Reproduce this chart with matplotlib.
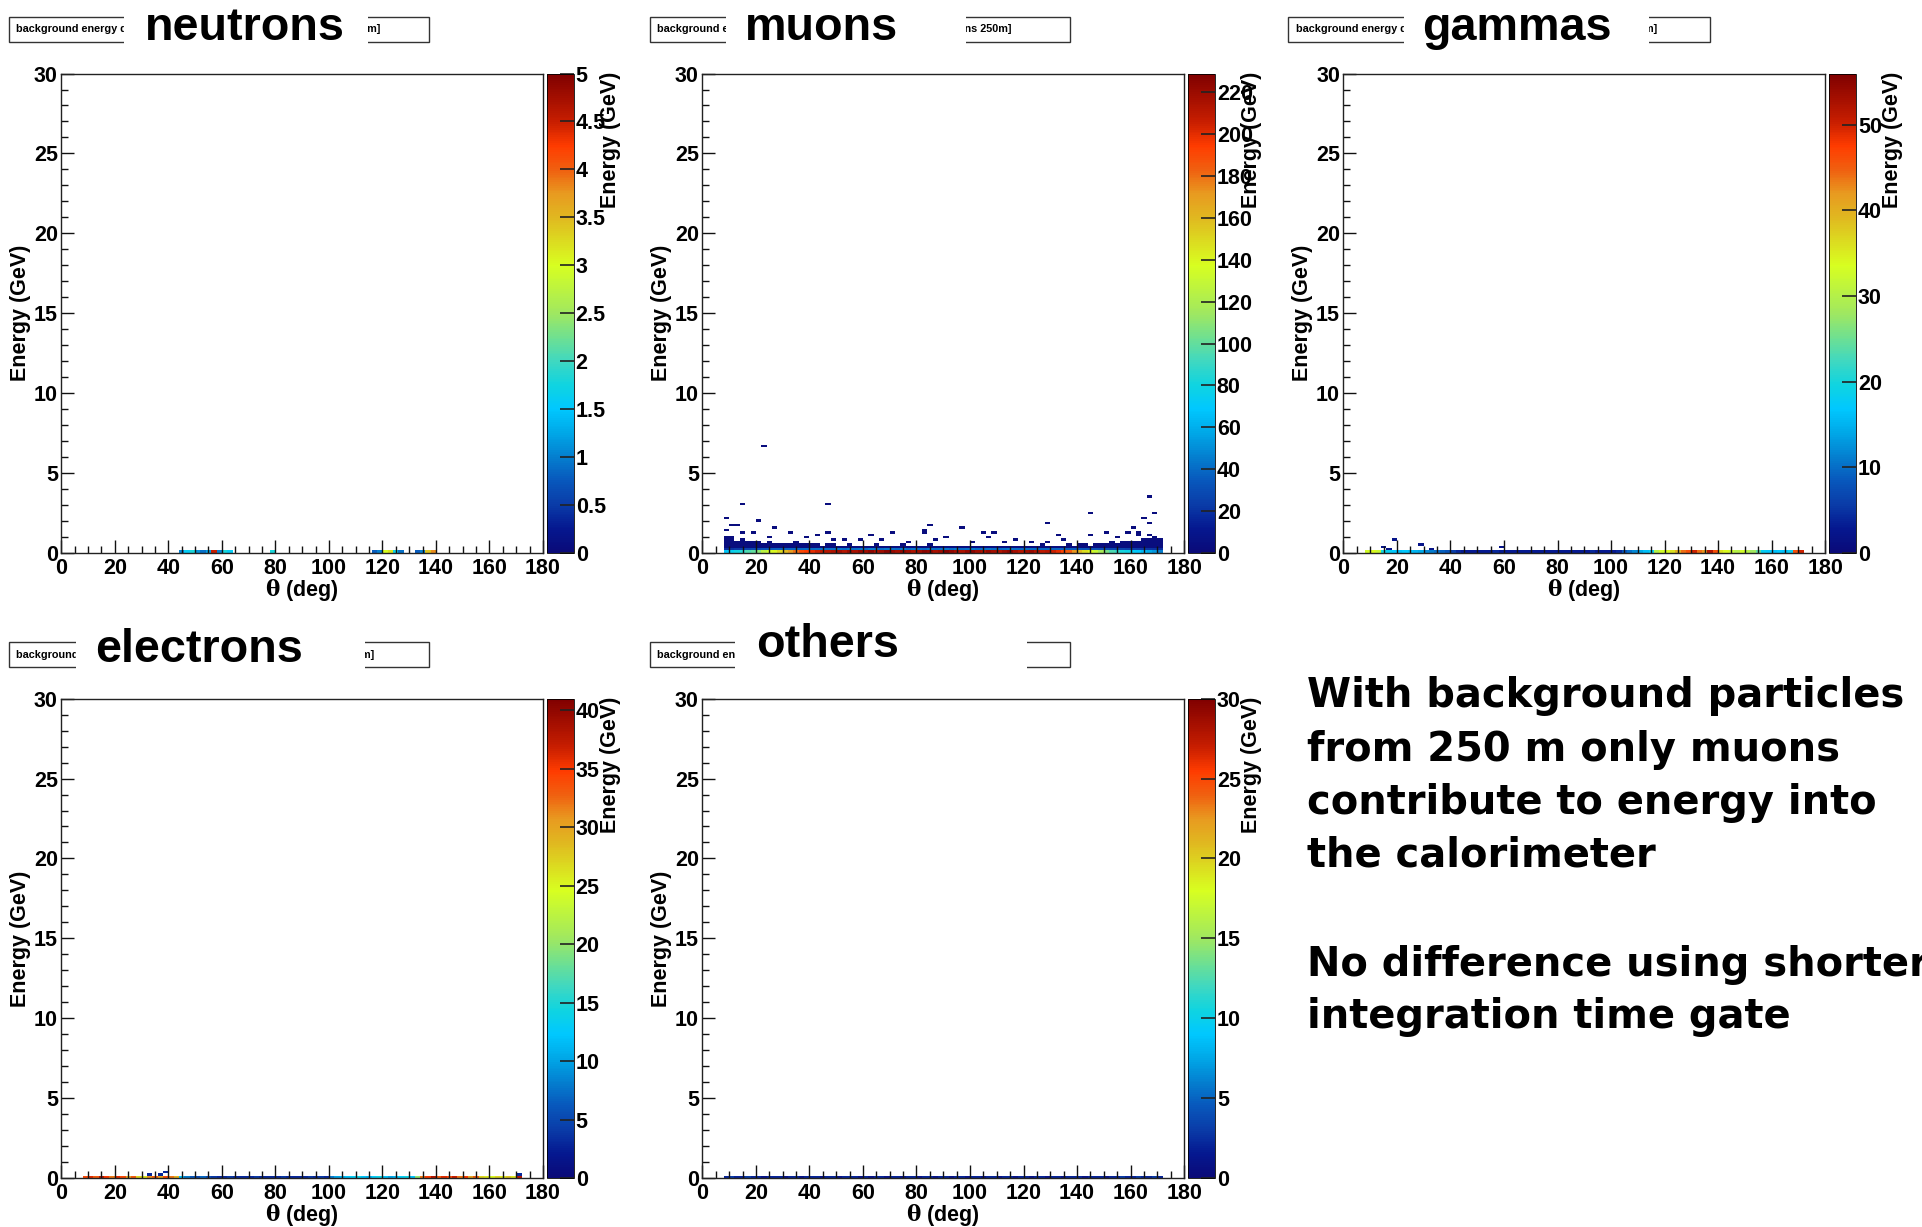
import numpy as np
import matplotlib
matplotlib.use("Agg")
import matplotlib.pyplot as plt
from matplotlib.colors import LinearSegmentedColormap
from matplotlib.patches import Rectangle
from matplotlib.ticker import MultipleLocator

plt.rcParams['font.family'] = ['Liberation Sans', 'DejaVu Sans']
plt.rcParams['font.weight'] = 'bold'
plt.rcParams['mathtext.fontset'] = 'dejavuserif'

# slide coordinates used for placing things (px of the 1568x1001 slide)
W, H = 1568.0, 1001.0

# TH2 binning: theta in 2 deg bins, energy in 0.15 GeV bins
theta_edges = np.arange(0, 182, 2)
energy_edges = np.linspace(0, 30, 201)
theta_cols = np.arange(8, 172, 2)   # theta bins with hits (lower edges)

# ---- muons ----
mu_row0 = [70, 75, 80, 85, 95, 100, 110, 125, 135, 140,
           150, 160, 170, 180, 190, 195, 200, 205, 210, 212,
           214, 218, 212, 220, 216, 222, 218, 224, 215, 219,
           226, 221, 217, 223, 220, 214, 219, 225, 222, 216,
           220, 228, 223, 218, 214, 221, 226, 219, 215, 222,
           218, 213, 220, 224, 217, 212, 218, 221, 214, 209,
           212, 205, 200, 192, 185, 172, 160, 148, 140, 130,
           118, 105, 95, 88, 82, 78, 72, 68, 62, 58,
           52, 45]
mu_row1 = [18, 20, 22, 24, 26, 28, 30, 32, 34, 35,
           36, 37, 38, 38, 39, 40, 40, 41, 41, 42,
           42, 43, 41, 44, 42, 43, 40, 44, 42, 41,
           43, 42, 40, 44, 41, 43, 42, 40, 43, 41,
           42, 44, 41, 43, 40, 42, 44, 41, 42, 43,
           41, 40, 42, 43, 41, 40, 42, 41, 40, 39,
           39, 38, 38, 37, 36, 35, 34, 33, 32, 31,
           30, 29, 28, 27, 26, 25, 24, 23, 22, 21,
           20, 18]
mu_top = [7, 7, 5, 6, 5, 5, 5, 4, 5, 4,
          4, 4, 4, 5, 4, 4, 4, 4, 3, 4,
          4, 3, 3, 4, 3, 3, 3, 3, 4, 3,
          3, 3, 3, 4, 3, 3, 3, 3, 4, 3,
          3, 3, 3, 3, 3, 3, 3, 3, 3, 3,
          3, 3, 3, 3, 3, 3, 3, 3, 3, 4,
          3, 3, 3, 3, 4, 3, 4, 4, 3, 4,
          4, 4, 5, 4, 5, 5, 5, 5, 6, 6,
          7, 6]
mu_body = 3.0
mu_out_theta = [22.9, 15.6, 8.8, 20, 46.9, 166.9, 145.6, 169.4, 128.8, 165,
                166.9, 97.5, 85, 83.5, 83.5, 10.7, 13.8, 9.4, 27.5, 32.5,
                18.9, 43.4, 46.5, 62.5, 71.9, 105, 108.8, 132.5, 150.6, 158,
                162.5, 144.4, 107.5, 91.3, 87.5, 66.3, 53.8, 49.7, 117.5, 123.8,
                128, 135.6, 161, 167.5, 163, 14, 25, 38, 58, 76, 100, 112, 155]
mu_out_e = [6.6, 3.0, 2.17, 2.07, 3.07, 3.59, 2.5, 2.5, 1.88, 2.23,
            1.92, 1.58, 1.65, 1.46, 1.33, 1.65, 1.65, 1.4, 1.58, 1.31,
            1.23, 1.15, 1.31, 1.15, 1.25, 1.25, 1.31, 1.15, 1.31, 1.25,
            1.3, 1.06, 0.98, 0.94, 0.83, 0.88, 0.83, 0.83, 0.77, 0.73,
            0.67, 0.77, 1.55, 1.1, 1.05, 1.2, 1.0, 0.9, 0.75, 0.72, 0.72, 0.7, 1.0]
mu_out_value = 3.0

# ---- neutrons (lowest energy bin only) ----
n_theta = [44, 46, 48, 50, 52, 54, 56, 58, 60, 62, 78,
           116, 118, 120, 122, 124, 126, 132, 134, 136, 138]
n_val = [1.0, 1.6, 1.8, 1.1, 0.9, 1.2, 4.5, 1.0, 1.8, 1.6, 1.8,
         0.8, 1.0, 3.0, 3.2, 1.7, 0.9, 0.8, 1.0, 3.4, 3.8]

# ---- gammas ----
g_row0 = [33, 34, 32, 20, 18, 17, 16, 17, 16, 15,
          14, 12, 11, 10, 9, 8, 6, 4, 3, 3,
          3, 3, 3, 3, 4, 3, 3, 3, 3, 3,
          3, 3, 3, 3, 3, 3, 3, 3, 3, 3,
          3, 3, 4, 3, 3, 3, 3, 4, 8, 10,
          12, 14, 16, 18, 30, 33, 34, 36, 40, 44,
          46, 50, 44, 42, 52, 46, 36, 34, 32, 30,
          33, 30, 28, 24, 18, 17, 16, 17, 16, 18,
          46, 50]
g_out_theta = [19.2, 14.7, 28.4, 59.5, 17.2, 32.5]
g_out_e = [0.77, 0.38, 0.54, 0.30, 0.22, 0.20]
g_out_value = 2.0

# ---- electrons ----
e_row0 = [34, 36, 33, 38, 35, 32, 36, 34, 30, 33,
          27, 26, 31, 33, 30, 34, 32, 29, 12, 8,
          6, 5, 7, 5, 4, 3, 3, 4, 3, 3,
          3, 3, 4, 3, 3, 3, 3, 4, 3, 3,
          3, 3, 4, 3, 4, 3, 8, 10, 11, 12,
          13, 14, 12, 11, 13, 14, 12, 10, 11, 13,
          14, 12, 20, 32, 35, 38, 33, 36, 34, 37,
          32, 35, 30, 33, 27, 26, 25, 27, 26, 28,
          26, 38]
e_out_theta = [32, 38.6, 37, 171]
e_out_e = [0.20, 0.34, 0.23, 0.18]
e_out_value = 3.0

# ---- others ----
o_row0 = [2, 3, 2, 2, 3, 2, 2, 1, 2, 2,
          2, 1, 2, 2, 1, 2, 2, 2, 1, 2,
          2, 1, 2, 2, 2, 1, 2, 1, 2, 2,
          1, 2, 2, 1, 2, 2, 1, 2, 2, 1,
          2, 2, 1, 2, 2, 1, 2, 2, 1, 2,
          2, 1, 2, 2, 1, 2, 2, 1, 2, 2,
          1, 2, 2, 1, 2, 2, 2, 1, 2, 2,
          2, 1, 2, 2, 3, 2, 2, 3, 2, 2,
          3, 2]

# z-axis ranges and ticks
z_max = {'neutrons': 5, 'muons': 229, 'gammas': 56, 'electrons': 41, 'others': 30}
z_ticks = {'neutrons': np.arange(0, 5.01, 0.5), 'muons': np.arange(0, 221, 20),
           'gammas': np.arange(0, 51, 10), 'electrons': np.arange(0, 41, 5),
           'others': np.arange(0, 31, 5)}

summary = ["With background particles",
           "from 250 m only muons",
           "contribute to energy into",
           "the calorimeter",
           "",
           "No difference using shorter",
           "integration time gate"]


def empty():
    return np.zeros((len(energy_edges) - 1, len(theta_edges) - 1))


def col(theta):
    return int(np.searchsorted(theta_edges, theta, side='right') - 1)


def row(e):
    return int(np.searchsorted(energy_edges, e, side='right') - 1)


def scatter_in(h, thetas, es, v):
    for t, e in zip(thetas, es):
        h[row(e), col(t)] = v


hists = {}
h = empty()
for t, r0, r1, top in zip(theta_cols, mu_row0, mu_row1, mu_top):
    j = col(t)
    h[0, j] = r0
    h[1, j] = r1
    h[2:top, j] = mu_body
scatter_in(h, mu_out_theta, mu_out_e, mu_out_value)
hists['muons'] = h

h = empty()
for t, v in zip(n_theta, n_val):
    h[0, col(t)] = v
hists['neutrons'] = h

h = empty()
for t, v in zip(theta_cols, g_row0):
    h[0, col(t)] = v
scatter_in(h, g_out_theta, g_out_e, g_out_value)
hists['gammas'] = h

h = empty()
for t, v in zip(theta_cols, e_row0):
    h[0, col(t)] = v
scatter_in(h, e_out_theta, e_out_e, e_out_value)
hists['electrons'] = h

h = empty()
for t, v in zip(theta_cols, o_row0):
    h[0, col(t)] = v
hists['others'] = h

# ROOT-like "pretty palette"
cmap = LinearSegmentedColormap.from_list('root', [
    (0.00, '#0a0a78'), (0.05, '#051890'), (0.10, '#0a3ca8'), (0.15, '#0858bc'),
    (0.20, '#0480d0'), (0.25, '#00a8e8'), (0.30, '#00c8ff'), (0.35, '#10d4e0'),
    (0.40, '#40d8c0'), (0.50, '#a0e860'), (0.60, '#d8ff20'), (0.70, '#e0b820'),
    (0.75, '#e89a20'), (0.80, '#f06010'), (0.85, '#ff3c00'), (0.90, '#c81e00'),
    (1.00, '#800000')])

# panel layout: name, column, row, title box, white gap, big label pos, right text end
panels = [
    ('neutrons', 0, 0, (7, 350, 14, 34), (101, 300), (118, 33), 310),
    ('muons', 1, 0, (530, 873, 14, 34), (592, 788), (608, 33), 825),
    ('gammas', 2, 0, (1051, 1395, 14, 34), (1145, 1345), (1160, 33), 1352),
    ('electrons', 0, 1, (7, 350, 524, 544), (62, 298), (78, 540), 305),
    ('others', 1, 1, (530, 873, 524, 544), (600, 838), (617, 536), None),
]
col_x0 = [50, 573, 1096]
row_top = [60, 570]
aw, ah = 393, 391


def fx(x):
    return x / W


def fy(y):
    return 1 - y / H


fig = plt.figure(figsize=(19.22, 12.27), dpi=100)

for name, c, r, box, gap, lab, rend in panels:
    x0, top = col_x0[c], row_top[r]
    ax = fig.add_axes([fx(x0), fy(top + ah), aw / W, ah / H])
    cax = fig.add_axes([fx(x0 + 396), fy(top + ah), 22 / W, ah / H])

    data = np.ma.masked_equal(hists[name], 0)
    m = ax.pcolormesh(theta_edges, energy_edges, data, cmap=cmap,
                      vmin=0, vmax=z_max[name], shading='flat')
    ax.set_xlim(0, 180)
    ax.set_ylim(0, 30)
    ax.xaxis.set_major_locator(MultipleLocator(20))
    ax.xaxis.set_minor_locator(MultipleLocator(5))
    ax.yaxis.set_major_locator(MultipleLocator(5))
    ax.yaxis.set_minor_locator(MultipleLocator(1))
    ax.tick_params(which='both', direction='in', top=False, right=False,
                   width=1.0, color='#111', labelsize=15.5)
    ax.tick_params(which='major', length=9.5)
    ax.tick_params(which='minor', length=4.8)
    ax.tick_params(axis='x', pad=3.5)
    ax.tick_params(axis='y', pad=2.5)
    for s in ax.spines.values():
        s.set_linewidth(1.0)
        s.set_color('#222')
    ax.text(-0.084, 0.5, 'Energy (GeV)', rotation=90, ha='center', va='center',
            transform=ax.transAxes, fontsize=15.5)
    ax.text(0.5, -0.077, r'$\mathrm{\theta}$ (deg)', ha='center', va='center',
            transform=ax.transAxes, fontsize=15.5)

    cb = fig.colorbar(m, cax=cax)
    cb.minorticks_off()
    cb.set_ticks(z_ticks[name])
    cb.set_ticklabels([f'{t:g}' for t in z_ticks[name]])
    cb.outline.set_linewidth(0.6)
    cax.tick_params(direction='in', length=10, width=1.2, color='#222',
                    labelsize=15.5, pad=1.5)
    cax.text(2.36, 1.005, 'Energy (GeV)', rotation=90, ha='center', va='top',
             transform=cax.transAxes, fontsize=15.5)

    # title box, partly covered by the big particle label
    bx0, bx1, by0, by1 = box
    fig.add_artist(Rectangle((fx(bx0), fy(by1)), (bx1 - bx0) / W, (by1 - by0) / H,
                             transform=fig.transFigure, fill=False,
                             edgecolor='#333', linewidth=1.0, zorder=1))
    fig.text(fx(bx0 + 6), fy((by0 + by1) / 2), 'background energy distribution',
             fontsize=7.8, va='center', ha='left', zorder=2)
    if rend is not None:
        fig.text(fx(rend), fy((by0 + by1) / 2), f'({name} 250m]',
                 fontsize=7.8, va='center', ha='right', zorder=2)
    fig.add_artist(Rectangle((fx(gap[0]), fy(by1 + 4)), (gap[1] - gap[0]) / W,
                             (by1 - by0 + 8) / H, transform=fig.transFigure,
                             facecolor='white', edgecolor='none', zorder=3))
    fig.text(fx(lab[0]), fy(lab[1]), name, fontsize=33.7, weight='bold',
             ha='left', va='baseline', zorder=4)

baselines = [577, 621, 664, 707, None, 796, 839]
for line, yb in zip(summary, baselines):
    if line:
        fig.text(fx(1066), fy(yb), line, fontsize=28.8, family='DejaVu Sans',
                 weight='bold', ha='left', va='baseline')

fig.savefig('out.png', dpi=100)
